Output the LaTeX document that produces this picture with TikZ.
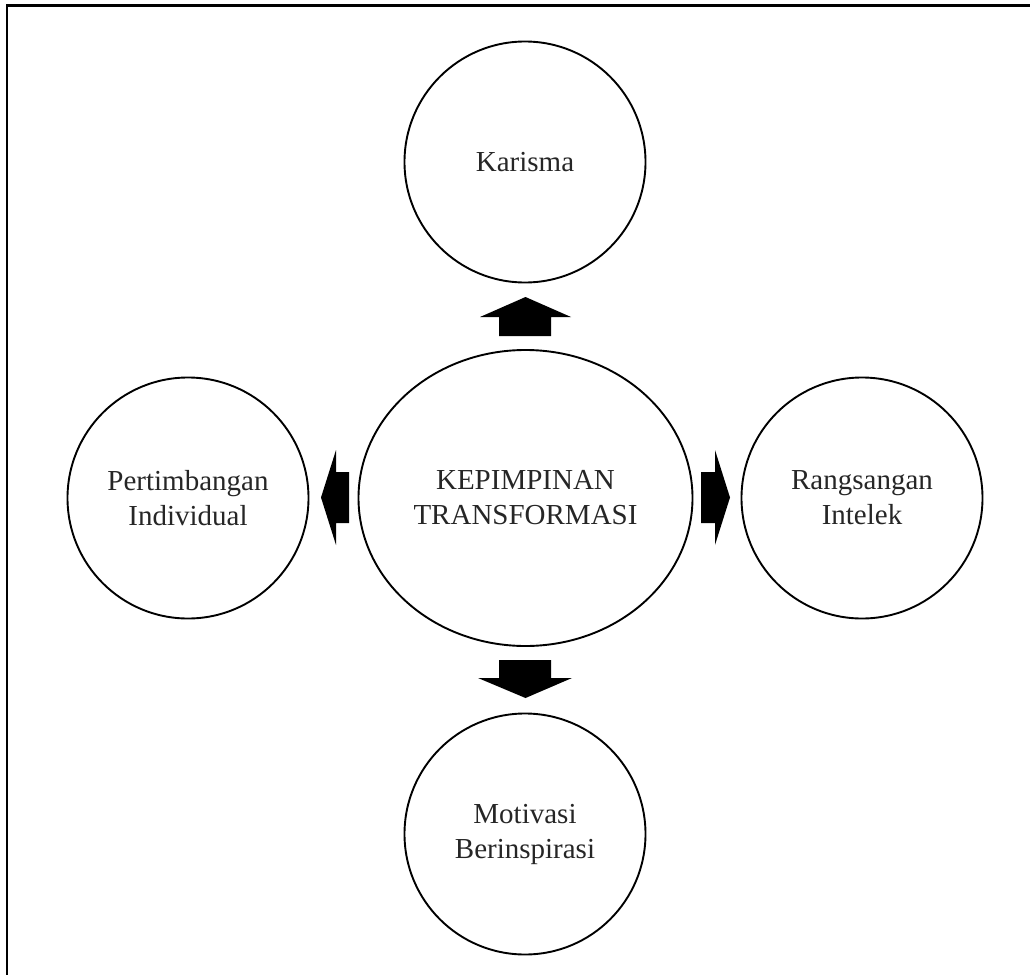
\documentclass[tikz,border=0pt]{standalone}
\usepackage{fontspec}
\setmainfont{Liberation Serif}
\usetikzlibrary{shapes.geometric}
\tikzset{
  bubble/.style={draw=black, line width=1.9pt, circle, minimum size=241pt, inner sep=0pt,
    align=center, font=\fontsize{29}{35}\selectfont, text=black!85},
  hub/.style={draw=black, line width=1.9pt, ellipse, minimum width=334pt, minimum height=296pt,
    inner sep=0pt, align=center, font=\fontsize{29}{35}\selectfont, text=black!85},
  blockarrow/.style={fill=black, draw=none},
  frameline/.style={draw=black, line width=2.2pt}
}
\begin{document}
\begin{tikzpicture}[x=1pt, y=-1pt]
\useasboundingbox (0,0) rectangle (1030,974);
\coordinate (fb) at (7,980);
\coordinate (fc) at (7,5.5);
\coordinate (fr) at (1036,5.5);
\draw[frameline] (fb) -- (fc) -- (fr);

\node[hub] (hub) at (525.5,498) {KEPIMPINAN\\TRANSFORMASI};
\node[bubble] (top) at (525,162) {Karisma};
\node[bubble] (left) at (188,498) {Pertimbangan\\Individual};
\node[bubble] (right) at (862,498) {Rangsangan\\Intelek};
\node[bubble] (bottom) at (525,834) {Motivasi\\Berinspirasi};

% up arrow
\fill[blockarrow] (499,336) -- (499,317) -- (480,317) -- (525.5,297) -- (571,317) -- (551,317) -- (551,336) -- cycle;
% down arrow
\fill[blockarrow] (499,660) -- (499,678) -- (478,678) -- (525.5,698) -- (572,678) -- (551,678) -- (551,660) -- cycle;
% left arrow
\fill[blockarrow] (349,472) -- (336,472) -- (336,450) -- (321,497.5) -- (336,545) -- (336,523) -- (349,523) -- cycle;
% right arrow
\fill[blockarrow] (701,472) -- (715,472) -- (715,450) -- (730,497.5) -- (715,545) -- (715,523) -- (701,523) -- cycle;
\end{tikzpicture}
\end{document}
